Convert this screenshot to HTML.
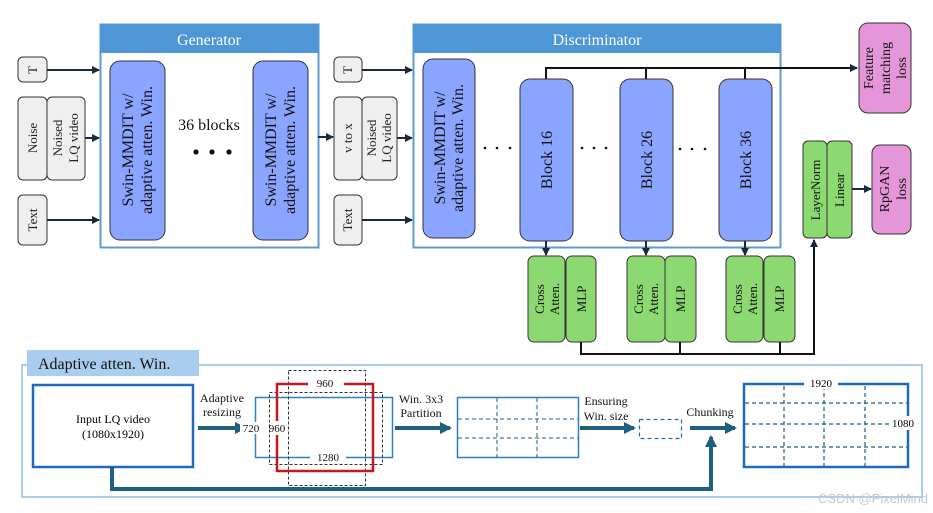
<!DOCTYPE html>
<html><head><meta charset="utf-8"><style>
html,body{margin:0;padding:0;background:#fff;}
svg{display:block;font-family:"Liberation Serif",serif;}
</style></head><body>
<svg width="933" height="513" viewBox="0 0 933 513" xmlns="http://www.w3.org/2000/svg">
<defs>
<marker id="a" markerWidth="8" markerHeight="8" refX="7" refY="4" orient="auto" markerUnits="userSpaceOnUse"><path d="M0,0L8,4L0,8z" fill="#1a2a3a"/></marker>
<marker id="b" markerWidth="12" markerHeight="12" refX="10" refY="6" orient="auto" markerUnits="userSpaceOnUse"><path d="M0,0L12,6L0,12z" fill="#1f5f80"/></marker>
</defs>
<!-- Generator -->
<rect x="100.5" y="24.5" width="218" height="223" fill="#fff" stroke="#5b9bd5" stroke-width="2"/>
<rect x="100" y="24" width="219" height="29" fill="#4f96d6"/>
<text x="209" y="45" font-size="16" fill="#fff" text-anchor="middle">Generator</text>
<g stroke="#333" stroke-width="1" fill="#efefef">
<rect x="18" y="57" width="29" height="25" rx="5"/>
<rect x="18" y="97" width="29" height="83" rx="5"/>
<rect x="47" y="97" width="38" height="83" rx="5"/>
<rect x="18" y="195" width="29" height="50" rx="5"/>
<rect x="334" y="57" width="28" height="25" rx="5"/>
<rect x="334" y="97" width="28" height="83" rx="5"/>
<rect x="362" y="97" width="35" height="83" rx="5"/>
<rect x="334" y="195" width="28" height="50" rx="5"/>
</g>
<g font-size="13" text-anchor="middle" fill="#222">
<text transform="translate(37,70) rotate(-90)">T</text>
<text transform="translate(37,138) rotate(-90)">Noise</text>
<text transform="translate(62,138) rotate(-90)">Noised</text>
<text transform="translate(78,138) rotate(-90)">LQ video</text>
<text transform="translate(37,220) rotate(-90)">Text</text>
<text transform="translate(352,70) rotate(-90)">T</text>
<text transform="translate(352,138) rotate(-90)">v to x</text>
<text transform="translate(376,138) rotate(-90)">Noised</text>
<text transform="translate(391,138) rotate(-90)">LQ video</text>
<text transform="translate(352,220) rotate(-90)">Text</text>
</g>
<g stroke="#1a2a3a" stroke-width="2" marker-end="url(#a)">
<line x1="47" y1="70" x2="99" y2="70"/>
<line x1="85" y1="138" x2="99" y2="138"/>
<line x1="47" y1="220" x2="99" y2="220"/>
<line x1="318" y1="137" x2="333" y2="137"/>
<line x1="362" y1="70" x2="412" y2="70"/>
<line x1="397" y1="138" x2="412" y2="138"/>
<line x1="362" y1="220" x2="412" y2="220"/>
</g>
<g fill="#8aa5ff" stroke="#333" stroke-width="1">
<rect x="110" y="61" width="55" height="179" rx="10"/>
<rect x="253" y="61" width="55" height="179" rx="10"/>
</g>
<g font-size="16" text-anchor="middle" fill="#111">
<text transform="translate(133,150) rotate(-90)">Swin-MMDIT w/</text>
<text transform="translate(152,150) rotate(-90)">adaptive atten. Win.</text>
<text transform="translate(276,150) rotate(-90)">Swin-MMDIT w/</text>
<text transform="translate(295,150) rotate(-90)">adaptive atten. Win.</text>
<text x="209" y="130">36 blocks</text>
</g>
<g fill="#111"><circle cx="196" cy="152" r="2.6"/><circle cx="212" cy="152" r="2.6"/><circle cx="229" cy="152" r="2.6"/></g>
<!-- Discriminator -->
<rect x="413.5" y="24.5" width="367" height="223" fill="#fff" stroke="#5b9bd5" stroke-width="2"/>
<rect x="413" y="24" width="368" height="29" fill="#4f96d6"/>
<text x="597" y="45" font-size="16" fill="#fff" text-anchor="middle">Discriminator</text>
<polyline points="546,79 546,68 646,68 646,79" fill="none" stroke="#111" stroke-width="2"/>
<line x1="745" y1="79" x2="745" y2="68" stroke="#111" stroke-width="2"/>
<line x1="546" y1="68" x2="857" y2="68" stroke="#111" stroke-width="2" marker-end="url(#a)"/>
<g fill="#8aa5ff" stroke="#333" stroke-width="1">
<rect x="423" y="59" width="52" height="179" rx="10"/>
<rect x="520" y="79" width="53" height="162" rx="10"/>
<rect x="620" y="79" width="53" height="162" rx="10"/>
<rect x="719" y="79" width="53" height="162" rx="10"/>
</g>
<g font-size="16" text-anchor="middle" fill="#111">
<text transform="translate(445,148) rotate(-90)">Swin-MMDIT w/</text>
<text transform="translate(463,148) rotate(-90)">adaptive atten. Win.</text>
<text transform="translate(552,160) rotate(-90)">Block 16</text>
<text transform="translate(652,160) rotate(-90)">Block 26</text>
<text transform="translate(751,160) rotate(-90)">Block 36</text>
</g>
<g fill="#111">
<circle cx="485" cy="148" r="1.3"/><circle cx="497" cy="148" r="1.3"/><circle cx="510" cy="148" r="1.3"/>
<circle cx="582" cy="148" r="1.3"/><circle cx="594" cy="148" r="1.3"/><circle cx="606" cy="148" r="1.3"/>
<circle cx="680" cy="149" r="1.3"/><circle cx="692" cy="149" r="1.3"/><circle cx="705" cy="149" r="1.3"/>
</g>
<g stroke="#1a2a3a" stroke-width="2" marker-end="url(#a)">
<line x1="546" y1="241" x2="546" y2="255"/>
<line x1="646" y1="241" x2="646" y2="255"/>
<line x1="745" y1="241" x2="745" y2="255"/>
</g>
<g fill="#8cd871" stroke="#333" stroke-width="1">
<rect x="528" y="256" width="37" height="86" rx="6"/><rect x="566" y="256" width="30" height="86" rx="6"/>
<rect x="627" y="256" width="38" height="86" rx="6"/><rect x="665" y="256" width="31" height="86" rx="6"/>
<rect x="726" y="256" width="37" height="86" rx="6"/><rect x="764" y="256" width="31" height="86" rx="6"/>
<rect x="803" y="141" width="24" height="97" rx="5"/><rect x="827" y="141" width="25" height="97" rx="5"/>
</g>
<g font-size="13" text-anchor="middle" fill="#111">
<text transform="translate(544,299) rotate(-90)">Cross</text><text transform="translate(559,299) rotate(-90)">Atten.</text><text transform="translate(586,299) rotate(-90)">MLP</text>
<text transform="translate(643,299) rotate(-90)">Cross</text><text transform="translate(658,299) rotate(-90)">Atten.</text><text transform="translate(685,299) rotate(-90)">MLP</text>
<text transform="translate(742,299) rotate(-90)">Cross</text><text transform="translate(757,299) rotate(-90)">Atten.</text><text transform="translate(784,299) rotate(-90)">MLP</text>
<text transform="translate(820,190) rotate(-90)">LayerNorm</text>
<text transform="translate(844,190) rotate(-90)">Linear</text>
</g>
<polyline points="581,342 581,354 814,354 814,245" fill="none" stroke="#111" stroke-width="2"/>
<line x1="680" y1="342" x2="680" y2="354" stroke="#111" stroke-width="2"/>
<line x1="780" y1="342" x2="780" y2="354" stroke="#111" stroke-width="2"/>
<line x1="814" y1="250" x2="814" y2="240" stroke="#111" stroke-width="2" marker-end="url(#a)"/>
<line x1="852" y1="189" x2="871" y2="189" stroke="#1a2a3a" stroke-width="2" marker-end="url(#a)"/>
<g fill="#e496d8" stroke="#333" stroke-width="1">
<rect x="859" y="23" width="52" height="90" rx="9"/>
<rect x="872" y="145" width="39" height="89" rx="8"/>
</g>
<g font-size="14" text-anchor="middle" fill="#111">
<text transform="translate(873,68) rotate(-90)">Feature</text>
<text transform="translate(890,68) rotate(-90)">matching</text>
<text transform="translate(906,68) rotate(-90)">loss</text>
<text transform="translate(889,189) rotate(-90)">RpGAN</text>
<text transform="translate(906,189) rotate(-90)">loss</text>
</g>
<!-- Adaptive panel -->
<rect x="22" y="365" width="900" height="132" fill="none" stroke="#a9cdee" stroke-width="2"/>
<rect x="27" y="350" width="172" height="26" fill="#a9cdee"/>
<text x="38" y="369" font-size="16" fill="#111">Adaptive atten. Win.</text>
<rect x="33" y="385" width="160" height="82" fill="none" stroke="#1f6bb8" stroke-width="2.5"/>
<text x="113" y="423" font-size="12" text-anchor="middle">Input LQ video</text>
<text x="113" y="438" font-size="12" text-anchor="middle">(1080x1920)</text>
<g font-size="12" text-anchor="middle" fill="#111">
<text x="222" y="402">Adaptive</text><text x="222" y="416">resizing</text>
<text x="421" y="403">Win. 3x3</text><text x="421" y="417">Partition</text>
<text x="606" y="405">Ensuring</text><text x="606" y="420">Win. size</text>
<text x="710" y="416">Chunking</text>
</g>
<g stroke="#1f5f80" stroke-width="4" marker-end="url(#b)">
<line x1="198" y1="428" x2="245" y2="428"/>
<line x1="395" y1="428" x2="450" y2="428"/>
<line x1="580" y1="428" x2="634" y2="428"/>
<line x1="690" y1="428" x2="735" y2="428"/>
</g>
<polyline points="112,467 112,489 711,489 711,448" fill="none" stroke="#1f5f80" stroke-width="4"/>
<line x1="711" y1="450" x2="711" y2="437" stroke="#1f5f80" stroke-width="4" marker-end="url(#b)"/>
<!-- resizing fig -->
<rect x="255.5" y="397.5" width="137" height="60" fill="none" stroke="#2f7fc8" stroke-width="1.5"/>
<rect x="269.5" y="392.5" width="113" height="72" fill="none" stroke="#333" stroke-width="1" stroke-dasharray="3,2"/>
<rect x="288.5" y="370.5" width="77" height="115" fill="none" stroke="#333" stroke-width="1" stroke-dasharray="3,2"/>
<rect x="277" y="384" width="96" height="87" fill="none" stroke="#c8161d" stroke-width="2.5"/>
<rect x="308" y="378" width="36" height="12" fill="#fff"/>
<rect x="270" y="421" width="12" height="14" fill="#fff"/>
<rect x="310" y="452" width="36" height="12" fill="#fff"/>
<rect x="240" y="422" width="18" height="12" fill="#fff"/>
<g font-size="11" text-anchor="middle" fill="#111">
<text x="325" y="387">960</text>
<text x="277" y="432">960</text>
<text x="328" y="461">1280</text>
<text x="251" y="432">720</text>
</g>
<!-- grid -->
<rect x="457.5" y="397.5" width="121" height="60" fill="none" stroke="#2f7fc8" stroke-width="1.5"/>
<g stroke="#1f5f80" stroke-width="1" stroke-dasharray="4,3">
<line x1="497" y1="398" x2="497" y2="457"/><line x1="537" y1="398" x2="537" y2="457"/>
<line x1="458" y1="419" x2="578" y2="419"/><line x1="458" y1="438" x2="578" y2="438"/>
</g>
<rect x="639.5" y="419.5" width="42" height="19" fill="none" stroke="#1f6bb8" stroke-width="1.2" stroke-dasharray="4,3"/>
<rect x="744" y="384" width="164" height="83" fill="none" stroke="#1f6bb8" stroke-width="2.5"/>
<g stroke="#1f5f80" stroke-width="1.2" stroke-dasharray="4,3">
<line x1="784" y1="386" x2="784" y2="466"/><line x1="824" y1="386" x2="824" y2="466"/><line x1="865" y1="386" x2="865" y2="466"/>
<line x1="745" y1="403" x2="907" y2="403"/><line x1="745" y1="424" x2="890" y2="424"/><line x1="745" y1="447" x2="907" y2="447"/>
</g>
<rect x="804" y="377" width="34" height="12" fill="#fff"/>
<rect x="892" y="416" width="24" height="14" fill="#fff"/>
<text x="821" y="387" font-size="11" text-anchor="middle">1920</text>
<text x="903" y="427" font-size="11" text-anchor="middle">1080</text>
<text x="928" y="503" font-size="13" fill="#c8c8c8" text-anchor="end" font-family="Liberation Sans,sans-serif">CSDN @PixelMind</text>
</svg>
</body></html>
